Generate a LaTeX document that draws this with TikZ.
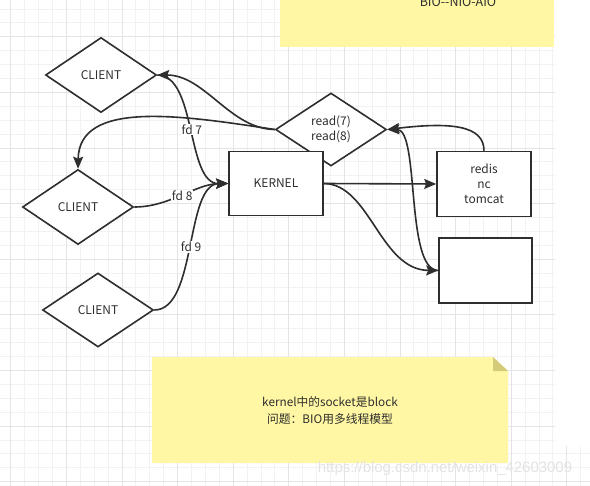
\documentclass[tikz,border=0pt]{standalone}
\usepackage{fontspec}
\newfontfamily\cjk{Noto Sans CJK SC}
\newfontfamily\wmfont{Liberation Sans}
\usetikzlibrary{shapes.geometric,arrows.meta}
\definecolor{ink}{HTML}{2E2E2E}
\definecolor{notey}{RGB}{255,247,163}
\definecolor{notefold}{RGB}{212,202,122}
\definecolor{gridminor}{RGB}{242,242,242}
\definecolor{gridmajor}{RGB}{228,228,228}
\tikzset{
  every node/.style={font=\cjk\fontsize{12}{15}\selectfont, text=ink},
  client/.style={diamond, draw=ink, line width=1.6bp, fill=white, minimum width=111bp, minimum height=75bp, inner sep=0pt},
  box/.style={rectangle, draw=ink, line width=1.6bp, fill=white, minimum width=94bp, minimum height=65bp, inner sep=0pt, align=center},
  conn/.style={draw=ink, line width=1.6bp, -{Stealth[length=12bp,width=10bp,inset=2bp]}},
  lbl/.style={fill=white, inner sep=1bp},
}
\begin{document}
\begin{tikzpicture}[x=1bp,y=-1bp]
\useasboundingbox (0,0) rectangle (590,486);
\clip (0,0) rectangle (590,486);
\fill[white] (0,0) rectangle (590,486);
% grid
\foreach \i in {0,...,41} {\draw[gridminor, line width=0.8bp] (10.7+13.9*\i,0) -- (10.7+13.9*\i,486);}
\foreach \j in {0,...,34} {\draw[gridminor, line width=0.8bp] (0,9.0+13.9*\j) -- (590,9.0+13.9*\j);}
\foreach \i in {0,4,...,40} {\draw[gridmajor, line width=0.8bp] (10.7+13.9*\i,0) -- (10.7+13.9*\i,486);}
\foreach \j in {2,6,...,34} {\draw[gridmajor, line width=0.8bp] (0,9.0+13.9*\j) -- (590,9.0+13.9*\j);}
\fill[white] (555,0) rectangle (590,446);
% top note
\fill[notey] (280,-2) rectangle (554,47);
\node[anchor=base, font=\cjk\fontsize{12.5}{15}\selectfont] (topnote) at (458,7) {BIO--NIO-AIO};
% bottom note
\fill[notey] (152,357) -- (493,357) -- (508,371) -- (508,463) -- (152,463) -- cycle;
\fill[notefold] (493,357) -- (508,371) -- (493,371) -- cycle;
\node[align=center, font=\cjk\fontsize{11.8}{17}\selectfont] (note) at (330,411) {kernel中的socket是block\\问题：BIO用多线程模型};
% shapes
\node[client] (c1) at (101,75) {CLIENT};
\node[client] (c2) at (78,207) {CLIENT};
\node[client, minimum height=74bp] (c3) at (98,310) {CLIENT};
\node[client, minimum height=73bp, align=center] (rd) at (331,129.5) {read(7)\\read(8)};
\node[box, minimum height=64bp] (k) at (276,183.5) {KERNEL};
\node[box] (rs) at (484,184) {redis\\nc\\tomcat};
\node[box, minimum width=93bp] (bx) at (485.5,270.5) {};
% connectors
\draw[conn] (c1.east) .. controls (197,75) and (186,184) .. node[lbl] (fd7) {fd 7} (k.west);
\draw[conn] (c2.east) .. controls (170,207) and (195,184) .. node[lbl] (fd8) {fd 8} (k.west);
\draw[conn] (c3.east) .. controls (197,310) and (185,184) .. node[lbl] (fd9) {fd 9} (k.west);
\draw[conn] (rd.west) .. controls (230,129) and (205,75) .. (c1.east);
\draw[conn] (rd.west) .. controls (180,115) and (79,100) .. (c2.north);
\draw[conn] (k.east) -- (rs.west);
\draw[conn] (k.east) .. controls (370,184) and (380,270) .. (bx.west);
\draw[conn] (rs.north) .. controls (484,125) and (450,122) .. (rd.east);
\draw[conn] (bx.west) .. controls (405,270) and (420,129) .. (rd.east);
% watermark
\node[font=\wmfont\fontsize{15}{15}\selectfont, text=gray!22, anchor=base] (wm) at (445,472) {https://blog.csdn.net/weixin\_42603009};
\end{tikzpicture}
\end{document}
